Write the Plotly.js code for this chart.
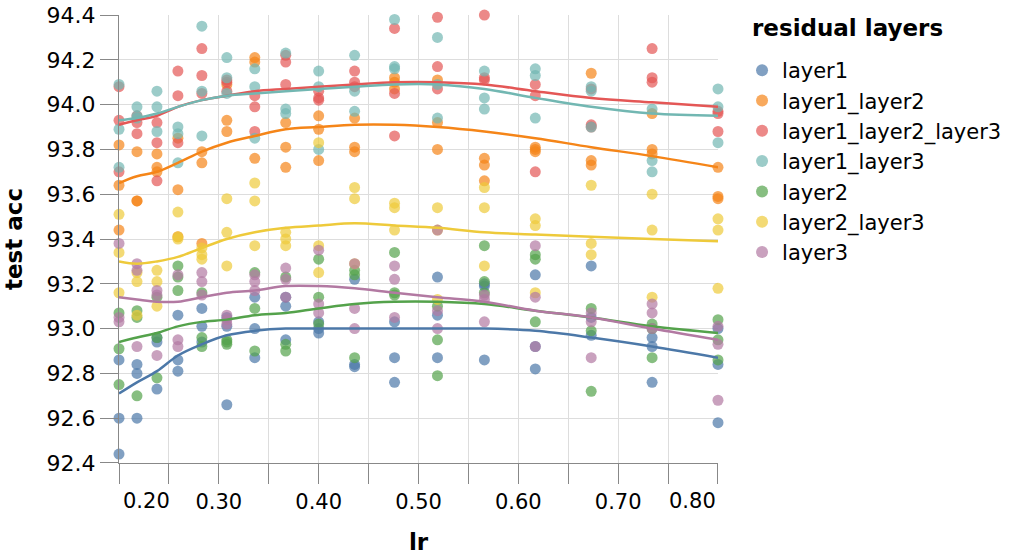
<!DOCTYPE html>
<html>
<head>
<meta charset="utf-8">
<script src="https://cdn.plot.ly/plotly-3.0.1.min.js"></script>
<style>html,body{margin:0;padding:0;background:#fff;}#chart{width:1014px;height:556px;}</style>
</head>
<body>
<div id="chart"></div>
<script>
// learning-rate values (x)
const lr = [0.2, 0.218, 0.238, 0.259, 0.283, 0.308, 0.336, 0.367, 0.4, 0.436, 0.476, 0.519, 0.566, 0.617, 0.673, 0.734, 0.8];

// test accuracy, three runs per lr, for each residual-layer setting
const layer1 = [[92.86,92.60,92.44],[92.84,92.80,92.60],[92.96,92.94,92.73],[93.06,92.86,92.81],[93.09,93.01,92.94],[93.05,93.01,92.66],[93.14,93.00,92.87],[93.14,93.10,92.95],[93.03,93.00,92.98],[93.22,92.84,92.83],[93.03,92.87,92.76],[93.23,93.06,92.87],[93.20,93.19,92.86],[93.24,92.92,92.82],[93.28,93.05,92.97],[92.96,92.92,92.76],[93.00,92.84,92.58]];
const layer1_layer2 = [[93.82,93.64,93.44],[93.79,93.57,93.57],[93.78,93.72,93.70],[93.85,93.62,93.41],[93.79,93.74,93.38],[94.09,93.93,93.88],[94.21,94.19,93.76],[93.92,93.81,93.72],[93.95,93.89,93.75],[93.94,93.81,93.79],[94.12,94.10,94.07],[94.11,93.92,93.80],[93.76,93.73,93.66],[93.81,93.80,93.79],[94.14,93.75,93.73],[93.96,93.80,93.78],[93.72,93.59,93.58]];
const layer1_layer2_layer3 = [[94.08,93.93,93.70],[93.95,93.92,93.87],[93.92,93.83,93.66],[94.15,94.04,93.83],[94.25,94.13,94.05],[94.11,94.10,94.06],[94.04,93.99,93.88],[94.22,94.19,94.09],[94.06,94.03,94.02],[94.15,94.10,94.08],[94.34,94.05,93.86],[94.39,94.17,94.07],[94.40,94.12,94.11],[94.09,94.04,93.70],[94.07,93.91,93.90],[94.25,94.12,94.10],[93.97,93.96,93.88]];
const layer1_layer3 = [[94.09,93.89,93.72],[93.99,93.95,93.94],[94.06,93.99,93.88],[93.90,93.87,93.74],[94.35,94.06,93.86],[94.21,94.12,94.05],[94.16,94.08,93.85],[94.23,93.98,93.96],[94.15,94.08,93.80],[94.22,94.06,93.97],[94.38,94.17,94.16],[94.30,94.09,93.94],[94.15,94.03,93.98],[94.16,94.13,93.94],[94.08,94.06,93.90],[93.98,93.75,93.70],[94.07,93.99,93.83]];
const layer2 = [[93.07,92.91,92.75],[93.08,93.05,92.70],[93.14,92.96,92.78],[93.28,93.23,93.17],[93.16,92.96,92.92],[92.95,92.94,92.93],[93.25,93.09,92.90],[93.23,92.93,92.90],[93.31,93.14,93.02],[93.26,93.24,92.87],[93.34,93.16,93.15],[93.10,92.95,92.79],[93.37,93.21,93.16],[93.33,93.31,93.03],[93.09,92.99,92.72],[93.02,93.00,92.87],[93.04,92.95,92.86]];
const layer2_layer3 = [[93.51,93.34,93.16],[93.25,93.21,93.06],[93.26,93.21,93.10],[93.52,93.41,93.40],[93.36,93.33,93.31],[93.58,93.43,93.28],[93.65,93.57,93.37],[93.43,93.40,93.37],[93.83,93.37,93.25],[93.63,93.58,93.29],[93.56,93.54,93.44],[93.54,93.44,93.13],[93.63,93.54,93.28],[93.49,93.46,93.16],[93.64,93.38,93.33],[93.60,93.44,93.14],[93.49,93.44,93.18]];
const layer3 = [[93.38,93.05,93.03],[93.29,93.26,92.92],[93.17,93.15,92.88],[93.24,92.95,92.92],[93.25,93.21,93.15],[93.06,93.04,93.02],[93.24,93.21,93.17],[93.27,93.22,93.14],[93.35,93.11,93.07],[93.29,93.09,93.00],[93.28,93.22,93.05],[93.44,93.08,93.00],[93.15,93.13,93.03],[93.37,93.14,92.92],[93.07,93.03,92.87],[93.11,93.07,93.00],[93.01,92.93,92.68]];

// smoothed trend lines (one value per lr)
const trend_layer1 = [92.71,92.76,92.81,92.88,92.93,92.97,92.99,93.00,93.00,93.00,93.00,93.00,93.00,92.99,92.96,92.92,92.87];
const trend_layer1_layer2 = [93.65,93.68,93.70,93.74,93.79,93.83,93.86,93.89,93.90,93.91,93.91,93.90,93.88,93.85,93.81,93.77,93.72];
const trend_layer1_layer2_layer3 = [93.91,93.93,93.95,93.99,94.02,94.04,94.06,94.07,94.08,94.09,94.10,94.10,94.09,94.06,94.03,94.01,93.99];
const trend_layer1_layer3 = [93.93,93.94,93.96,93.99,94.02,94.04,94.05,94.06,94.07,94.08,94.09,94.09,94.07,94.03,93.99,93.96,93.95];
const trend_layer2 = [92.94,92.96,92.98,93.01,93.03,93.04,93.06,93.07,93.09,93.11,93.12,93.12,93.11,93.08,93.05,93.01,92.98];
const trend_layer2_layer3 = [93.30,93.29,93.30,93.32,93.36,93.40,93.43,93.45,93.46,93.47,93.46,93.45,93.43,93.42,93.41,93.40,93.39];
const trend_layer3 = [93.14,93.13,93.12,93.12,93.14,93.16,93.17,93.19,93.19,93.18,93.16,93.14,93.12,93.08,93.05,93.00,92.95];

const seriesNames = ["layer1","layer1_layer2","layer1_layer2_layer3","layer1_layer3","layer2","layer2_layer3","layer3"];
const seriesRuns = [layer1, layer1_layer2, layer1_layer2_layer3, layer1_layer3, layer2, layer2_layer3, layer3];
const seriesTrend = [trend_layer1, trend_layer1_layer2, trend_layer1_layer2_layer3, trend_layer1_layer3, trend_layer2, trend_layer2_layer3, trend_layer3];
const colors = ["#4c78a8","#f58518","#e45756","#72b7b2","#54a24b","#eeca3b","#b279a2"];

const xTickVals = [0.2,0.25,0.3,0.35,0.4,0.45,0.5,0.55,0.6,0.65,0.7,0.75,0.8];
const xTickText = ["","","0.30","","0.40","","0.50","","0.60","","0.70","",""];
const yTickVals = [92.4,92.6,92.8,93.0,93.2,93.4,93.6,93.8,94.0,94.2,94.4];

const FONT = "'DejaVu Sans', Verdana, sans-serif";
const traces = [];
seriesNames.forEach((name, i) => {
  const xs = [], ys = [];
  seriesRuns[i].forEach((runs, j) => runs.forEach(v => { xs.push(lr[j]); ys.push(v); }));
  traces.push({
    type: "scatter", mode: "markers", name: name, x: xs, y: ys,
    marker: {color: colors[i], size: 11, opacity: 0.7},
    cliponaxis: false, hoverinfo: "x+y+name"
  });
});
seriesNames.forEach((name, i) => {
  traces.push({
    type: "scatter", mode: "lines", name: name, x: lr, y: seriesTrend[i],
    line: {color: colors[i], width: 2.5, shape: "spline", smoothing: 1},
    showlegend: false, hoverinfo: "skip"
  });
});

const layout = {
  width: 1014, height: 556,
  margin: {l: 119, r: 296, t: 15, b: 93},
  paper_bgcolor: "#fff", plot_bgcolor: "#fff",
  font: {family: FONT, size: 21, color: "#000"},
  showlegend: true,
  xaxis: {
    range: [0.19999, 0.80001], tickmode: "array", tickvals: xTickVals, ticktext: xTickText,
    showgrid: true, gridcolor: "#dddddd", gridwidth: 1,
    showline: true, linecolor: "#888", linewidth: 1,
    ticks: "outside", ticklen: 20, tickcolor: "#888", tickwidth: 1,
    zeroline: false, tickfont: {family: FONT, size: 21, color: "#000"},
    title: {text: "lr", font: {family: FONT, size: 23, color: "#000", weight: "bold"}, standoff: 20}
  },
  yaxis: {
    range: [92.3999, 94.4001], tickmode: "array", tickvals: yTickVals, tickformat: ".1f",
    showgrid: true, gridcolor: "#dddddd", gridwidth: 1,
    showline: true, linecolor: "#888", linewidth: 1,
    ticks: "outside", ticklen: 18, tickcolor: "#888", tickwidth: 1,
    zeroline: false, tickfont: {family: FONT, size: 22, color: "#000"},
    title: {text: "test acc", font: {family: FONT, size: 23, color: "#000", weight: "bold"}, standoff: 17}
  },
  legend: {
    xref: "container", yref: "container",
    x: 0.7318, xanchor: "left", y: 0.91, yanchor: "top",
    font: {family: FONT, size: 21, color: "#000"},
    itemsizing: "constant", bgcolor: "rgba(0,0,0,0)"
  },
  annotations: [
    {text: "<b>residual layers</b>", x: 1.0534, xref: "paper", xanchor: "left", y: 1.0, yref: "paper", yanchor: "middle", yshift: -13, showarrow: false, font: {family: FONT, size: 23, color: "#000"}},
    {text: "0.20", x: 0.2, xref: "x", xanchor: "left", y: 0, yref: "paper", yanchor: "top", yshift: -24, xshift: 2, showarrow: false, font: {family: FONT, size: 21, color: "#000"}},
    {text: "0.80", x: 0.8, xref: "x", xanchor: "right", y: 0, yref: "paper", yanchor: "top", yshift: -24, xshift: 0, showarrow: false, font: {family: FONT, size: 21, color: "#000"}}
  ]
};

Plotly.newPlot("chart", traces, layout, {displayModeBar: false, staticPlot: true});
</script>
</body>
</html>
